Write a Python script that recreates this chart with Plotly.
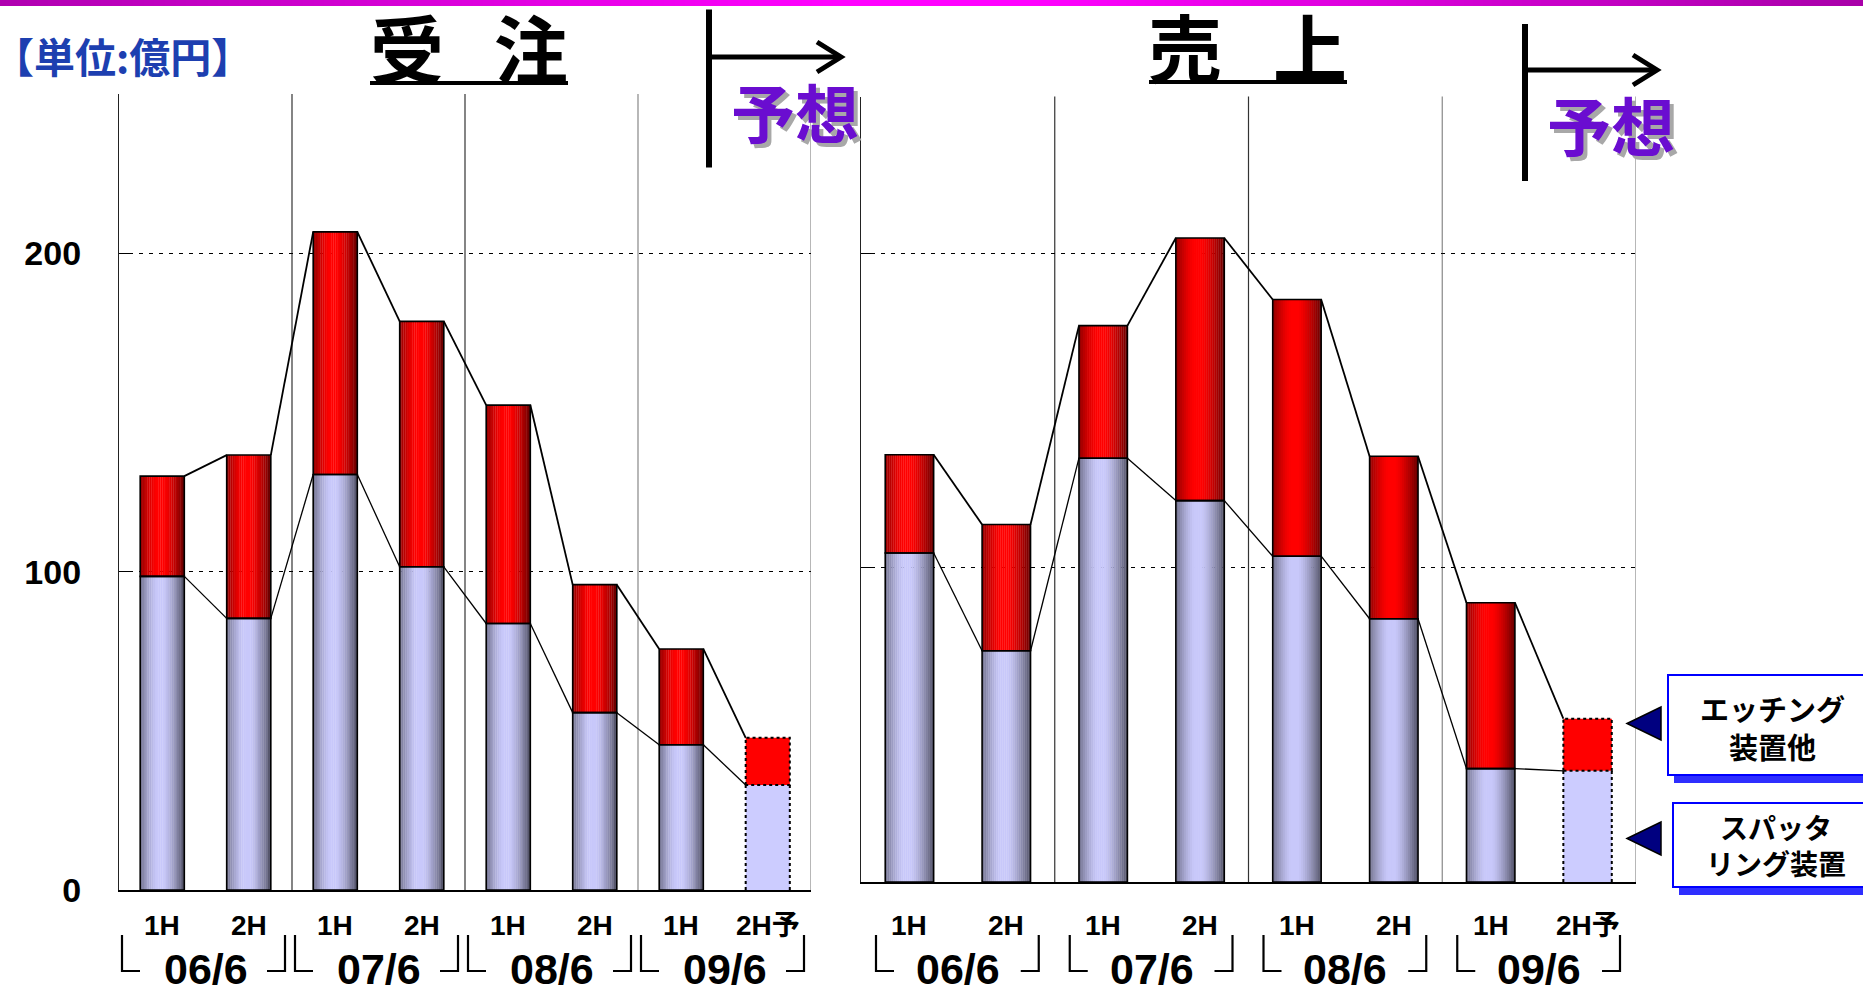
import plotly.graph_objects as go

W, H = 1863, 989

# ---- data -------------------------------------------------------------
periods = ["1H", "2H", "1H", "2H", "1H", "2H", "1H", "2H予"]
fiscal_years = ["06/6", "07/6", "08/6", "09/6"]

# 受注 (orders), 億円
orders_sputter = [98.5, 85.3, 130.5, 101.5, 83.7, 55.7, 45.6, 33.0]
orders_etching = [31.5, 51.3, 76.2, 77.1, 68.6, 40.2, 30.1, 14.8]
# 売上 (sales), 億円
sales_sputter = [104.7, 73.6, 134.9, 121.4, 103.7, 83.8, 36.1, 35.4]
sales_etching = [31.3, 40.2, 42.2, 83.6, 81.7, 51.7, 52.8, 16.6]

forecast_index = 7
y_ticks = [0, 100, 200]

# ---- styling ----------------------------------------------------------
SANS = "'Liberation Sans', Arial, 'Noto Sans CJK JP', sans-serif"
CJK = "'Noto Sans CJK JP', 'Noto Sans CJK SC', sans-serif"

RED = (255, 0, 0)
LAV = (200, 200, 250)
N_STRIPS = 24


def px(x):
    return x / W


def py(y):
    return 1 - y / H


def shade(u):
    d = abs(u - 0.45)
    d = min(1.0, max(0.0, d - 0.07) / 0.48)
    return 1 - 0.6 * d ** 1.4


def rgb(c, f):
    return "rgb(%d,%d,%d)" % tuple(int(round(v * f)) for v in c)


# chart frames in pixels: (left, right, bottom, top)
frames = {
    "left": (119, 811, 890, 94),
    "right": (861, 1636, 882, 96.6),
}

fig = go.Figure()


def add_chart(xa, ya, sputter, etching, w):
    n = len(sputter)
    totals = [s + e for s, e in zip(sputter, etching)]
    actual = [i for i in range(n) if i != forecast_index]
    sp_a = [sputter[i] for i in actual]
    et_a = [etching[i] for i in actual]
    # cylinder-style shading built from narrow vertical strips
    for k in range(N_STRIPS):
        u = (k + 0.5) / N_STRIPS
        f = shade(u)
        off = -w / 2 + k * w / N_STRIPS
        sw = w / N_STRIPS + (0.003 if k < N_STRIPS - 1 else 0)
        fig.add_trace(go.Bar(x=actual, y=sp_a, width=sw, offset=off,
                             marker=dict(color=rgb(LAV, f), line=dict(width=0)),
                             xaxis=xa, yaxis=ya, hoverinfo="skip"))
        fig.add_trace(go.Bar(x=actual, y=et_a, base=sp_a, width=sw, offset=off,
                             marker=dict(color=rgb(RED, f), line=dict(width=0)),
                             xaxis=xa, yaxis=ya, hoverinfo="skip"))
    # outlines
    fig.add_trace(go.Bar(x=actual, y=sp_a, width=w,
                         marker=dict(color="rgba(0,0,0,0)", line=dict(color="black", width=1.6)),
                         xaxis=xa, yaxis=ya, hoverinfo="skip"))
    fig.add_trace(go.Bar(x=actual, y=et_a, base=sp_a, width=w,
                         marker=dict(color="rgba(0,0,0,0)", line=dict(color="black", width=1.6)),
                         xaxis=xa, yaxis=ya, hoverinfo="skip"))
    # forecast bar: flat colours, dotted outline
    fi = forecast_index
    fig.add_trace(go.Bar(x=[fi], y=[sputter[fi]], width=w,
                         marker=dict(color="#ccccff", line=dict(width=0)),
                         xaxis=xa, yaxis=ya, hoverinfo="skip"))
    fig.add_trace(go.Bar(x=[fi], y=[etching[fi]], base=[sputter[fi]], width=w,
                         marker=dict(color="#ff0000", line=dict(width=0)),
                         xaxis=xa, yaxis=ya, hoverinfo="skip"))
    x0, x1 = fi - w / 2, fi + w / 2
    s, t = sputter[fi], totals[fi]
    fig.add_trace(go.Scatter(
        x=[x0, x0, x1, x1, x0, None, x0, x0, None, x1, x1],
        y=[s, t, t, s, s, None, 0, s, None, 0, s],
        mode="lines", line=dict(color="black", width=2, dash="3px,3px"),
        xaxis=xa, yaxis=ya, hoverinfo="skip"))
    # series lines joining neighbouring bars
    for vals, lw in ((totals, 1.8), (sputter, 1.3)):
        xs, ys = [], []
        for i in range(n - 1):
            xs += [i + w / 2, i + 1 - w / 2, None]
            ys += [vals[i], vals[i + 1], None]
        fig.add_trace(go.Scatter(x=xs, y=ys, mode="lines",
                                 line=dict(color="black", width=lw),
                                 xaxis=xa, yaxis=ya, hoverinfo="skip"))


add_chart("x", "y", orders_sputter, orders_etching, 0.51)
add_chart("x2", "y2", sales_sputter, sales_etching, 0.50)

# gradient rule across the top edge
grad = [i / 100 for i in range(101)]
fig.add_trace(go.Heatmap(z=[grad, grad], x=list(range(101)), y=[0, 1],
                         colorscale=[[0, "#b000b0"], [0.45, "#ff00ff"], [0.55, "#ff00ff"], [1, "#a800a8"]],
                         showscale=False, zsmooth="best", xaxis="x3", yaxis="y3",
                         hoverinfo="skip"))


def axis_pair(frame, show_labels):
    l, r, b, t = frame
    xa = dict(domain=[px(l), px(r)], range=[-0.5, 7.5], showticklabels=False,
              showgrid=False, zeroline=False, showline=True, linecolor="black",
              linewidth=2, ticks="", fixedrange=True, automargin=False)
    ya = dict(domain=[py(b), py(t)], range=[0, 250], tickvals=y_ticks,
              ticktext=[str(v) for v in y_ticks], showticklabels=show_labels,
              tickfont=dict(family=SANS, size=34, color="black", weight="bold"),
              ticklabelstandoff=30, showgrid=True, gridcolor="black",
              griddash="4px,6px", gridwidth=1, zeroline=False, showline=True,
              linecolor="#222", linewidth=1.3, ticks="inside", ticklen=10,
              tickcolor="black", tickwidth=1, fixedrange=True, automargin=False)
    return xa, ya


xa1, ya1 = axis_pair(frames["left"], True)
xa2, ya2 = axis_pair(frames["right"], False)
xa1["anchor"], ya1["anchor"] = "y", "x"
xa2["anchor"], ya2["anchor"] = "y2", "x2"

shapes = []
annotations = []

for key, xr, yr in (("left", "x", "y"), ("right", "x2", "y2")):
    l, r, b, t = frames[key]
    unit = (r - l) / 8.0
    # group separators and right border
    for xv, col in ((1.5, "#333"), (3.5, "#333"), (5.5, "#888"), (7.5, "#888")):
        shapes.append(dict(type="line", xref=xr, yref=yr + " domain", x0=xv, x1=xv,
                           y0=0, y1=1, line=dict(color=col, width=1.2), layer="below"))
    # period labels
    for i, lab in enumerate(periods):
        annotations.append(dict(x=i, y=py(925), xref=xr, yref="paper", text="<b>%s</b>" % lab,
                                showarrow=False, xanchor="center", yanchor="middle",
                                font=dict(family=SANS, size=28, color="black")))
    # fiscal-year labels with corner brackets
    ins_l, ins_r = (3, 7) if key == "left" else (15, 16)
    foot = 18 / unit
    for g, fy in enumerate(fiscal_years):
        annotations.append(dict(x=2 * g + 0.5, y=py(969), xref=xr, yref="paper",
                                text="<b>%s</b>" % fy, showarrow=False,
                                xanchor="center", yanchor="middle",
                                font=dict(family=SANS, size=43, color="black")))
        xl = 2 * g - 0.5 + ins_l / unit
        xrt = 2 * g + 1.5 - ins_r / unit
        shapes.append(dict(type="path", xref=xr, yref="paper",
                           path="M %f,%f L %f,%f L %f,%f" % (xl, py(935), xl, py(971), xl + foot, py(971)),
                           line=dict(color="black", width=2.2)))
        shapes.append(dict(type="path", xref=xr, yref="paper",
                           path="M %f,%f L %f,%f L %f,%f" % (xrt, py(935), xrt, py(971), xrt - foot, py(971)),
                           line=dict(color="black", width=2.2)))


def paper_path(points):
    return "M " + " L ".join("%f,%f" % (px(x), py(y)) for x, y in points)


# forecast markers: vertical rule with arrow
for vx, vy0, vy1, hy, tip in ((709, 9.5, 167.5, 57, 841), (1525, 24, 181, 70, 1657)):
    shapes.append(dict(type="line", xref="paper", yref="paper", x0=px(vx), x1=px(vx),
                       y0=py(vy0), y1=py(vy1), line=dict(color="black", width=6)))
    shapes.append(dict(type="line", xref="paper", yref="paper", x0=px(vx), x1=px(tip - 2),
                       y0=py(hy), y1=py(hy), line=dict(color="black", width=5)))
    shapes.append(dict(type="path", xref="paper", yref="paper",
                       path=paper_path([(tip - 24, hy - 15), (tip, hy), (tip - 24, hy + 15)]),
                       line=dict(color="black", width=5)))

# title underlines
shapes.append(dict(type="line", xref="paper", yref="paper", x0=px(370), x1=px(568),
                   y0=py(83), y1=py(83), line=dict(color="black", width=4)))
shapes.append(dict(type="line", xref="paper", yref="paper", x0=px(1149), x1=px(1347),
                   y0=py(82), y1=py(82), line=dict(color="black", width=4)))

# legend call-out boxes
callouts = [("エッチング<br>装置他", 1668, 675, 775, 707, 740, 1772, 727, 29),
            ("スパッタ<br>リング装置", 1673, 803, 887, 822, 855, 1776, 845, 28)]
for txt, bx0, by0, by1, tri_y0, tri_y1, tx, ty, fs in callouts:
    shapes.append(dict(type="rect", xref="paper", yref="paper", x0=px(bx0 + 6), x1=px(1880),
                       y0=py(by1 + 8), y1=py(by0 + 8), fillcolor="#2e2eff",
                       line=dict(width=0)))
    shapes.append(dict(type="rect", xref="paper", yref="paper", x0=px(bx0), x1=px(1875),
                       y0=py(by1), y1=py(by0), fillcolor="white",
                       line=dict(color="#0000ff", width=2)))
    shapes.append(dict(type="path", xref="paper", yref="paper",
                       path=paper_path([(1627, (tri_y0 + tri_y1) / 2), (1661, tri_y0), (1661, tri_y1)]) + " Z",
                       fillcolor="#000080", line=dict(color="black", width=1.5)))
    annotations.append(dict(x=px(tx), y=py(ty), xref="paper", yref="paper", text="<b>%s</b>" % txt,
                            showarrow=False, xanchor="center", yanchor="middle",
                            font=dict(family=CJK, size=fs, color="black")))

# titles
for ch, cx, cy in (("受", 407, 45), ("注", 531, 45), ("売", 1185, 44), ("上", 1310, 44)):
    annotations.append(dict(x=px(cx), y=py(cy), xref="paper", yref="paper", text="<b>%s</b>" % ch,
                            showarrow=False, xanchor="center", yanchor="middle",
                            font=dict(family=CJK, size=74, color="black")))

# 予想 with drop shadow
for cx, cy in ((795, 110), (1611, 123)):
    annotations.append(dict(x=px(cx), y=py(cy), xref="paper", yref="paper", text="<b>予想</b>",
                            showarrow=False, xanchor="center", yanchor="middle",
                            font=dict(family=CJK, size=64, color="#6a0dd0",
                                      shadow="4px 4px 0px #a8a8a8")))

# unit note
annotations.append(dict(x=px(122), y=py(55), xref="paper", yref="paper", text="<b>【単位:億円】</b>",
                        showarrow=False, xanchor="center", yanchor="middle",
                        font=dict(family=CJK, size=41, color="#1d3fb0")))

fig.update_layout(
    width=W, height=H, margin=dict(l=0, r=0, t=0, b=0, autoexpand=False),
    paper_bgcolor="white", plot_bgcolor="rgba(0,0,0,0)",
    showlegend=False, barmode="overlay",
    xaxis=xa1, yaxis=ya1, xaxis2=xa2, yaxis2=ya2,
    xaxis3=dict(domain=[0, 1], range=[0, 100], visible=False, anchor="y3", fixedrange=True),
    yaxis3=dict(domain=[py(6), 1], range=[0, 1], visible=False, anchor="x3", fixedrange=True),
    shapes=shapes, annotations=annotations,
)

fig.write_html("out.html")
